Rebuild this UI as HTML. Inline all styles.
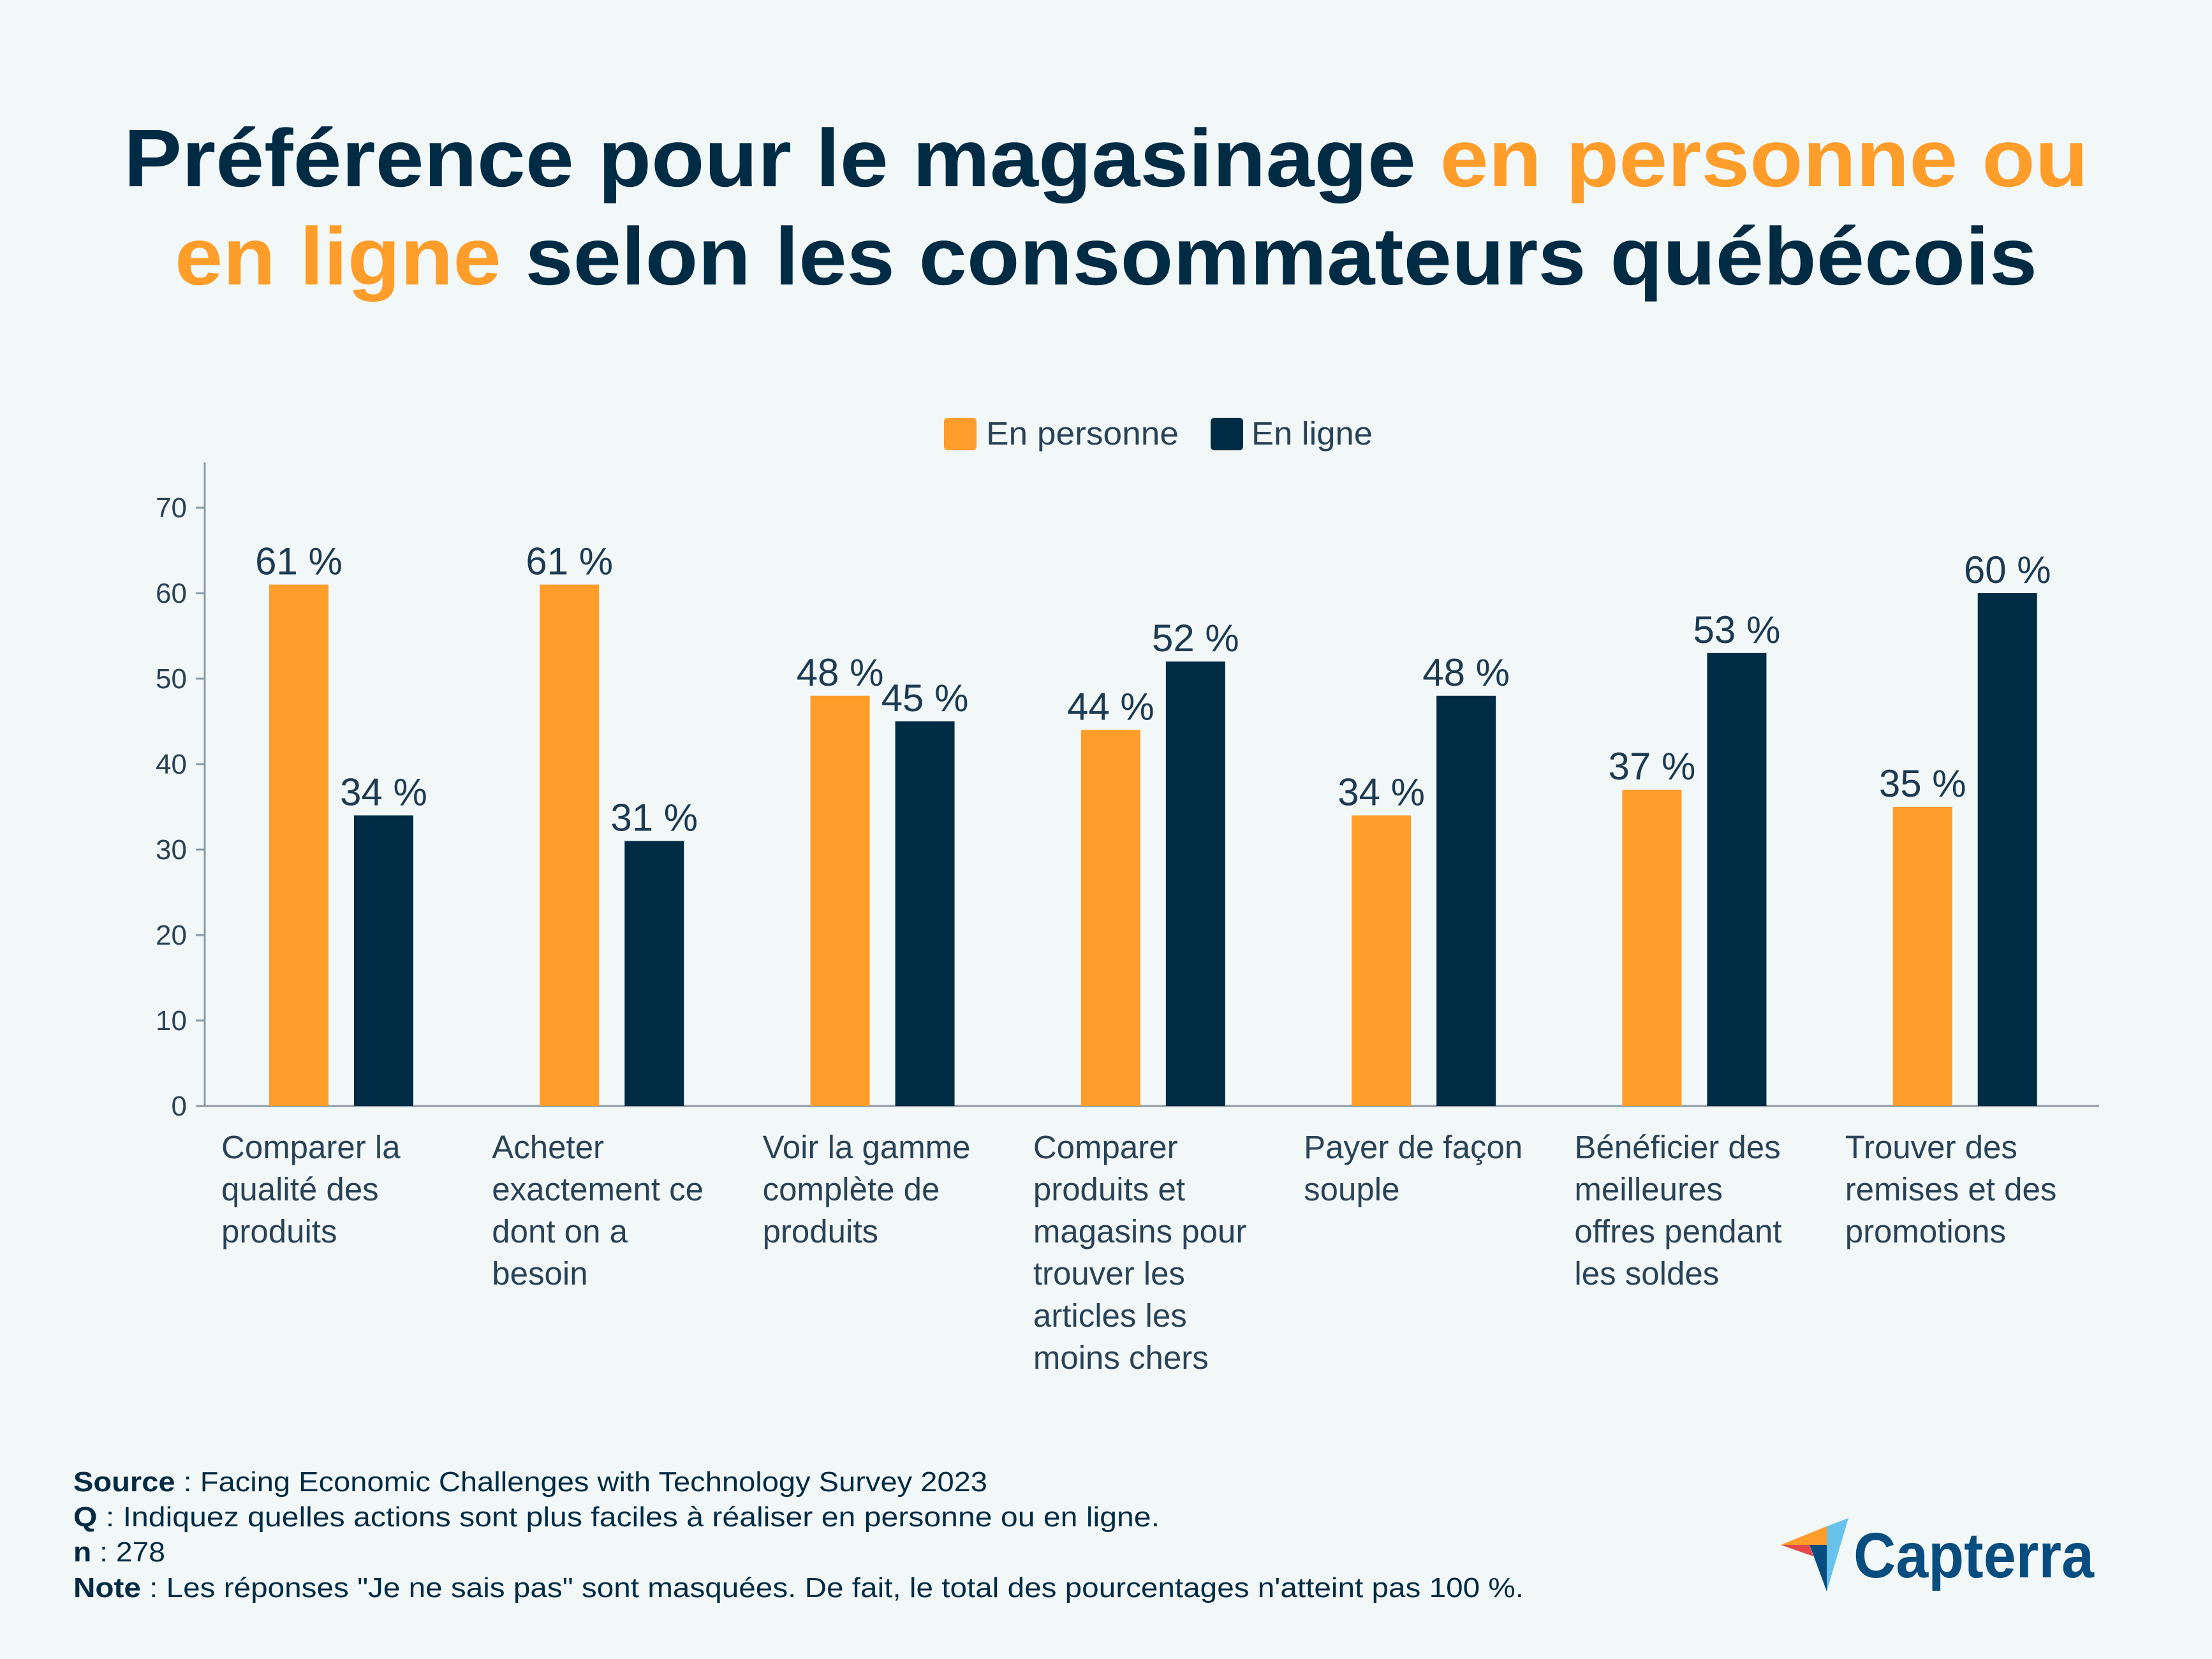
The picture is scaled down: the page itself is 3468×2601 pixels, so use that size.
<!DOCTYPE html>
<html><head><meta charset="utf-8"><style>
html,body{margin:0;padding:0;background:#f2f7f7;}
svg{display:block;font-family:"Liberation Sans",sans-serif;}
</style></head><body>
<svg id="chart" width="3468" height="2601" viewBox="0 0 3468 2601" xmlns="http://www.w3.org/2000/svg">
<rect width="3468" height="2601" fill="#f2f7f7"/>
<text x="1734" y="292" text-anchor="middle" font-size="128" font-weight="bold" fill="#002b44" textLength="3080" lengthAdjust="spacingAndGlyphs">Préférence pour le magasinage <tspan fill="#ff9d2a">en personne ou</tspan></text>
<text x="1734" y="446" text-anchor="middle" font-size="128" font-weight="bold" fill="#002b44" textLength="2920" lengthAdjust="spacingAndGlyphs"><tspan fill="#ff9d2a">en ligne</tspan> selon les consommateurs québécois</text>
<g>
<rect x="1480" y="655" width="51" height="51" rx="6" fill="#ff9d2a"/>
<text x="1546" y="697" font-size="51" fill="#2a4256" textLength="302" lengthAdjust="spacingAndGlyphs">En personne</text>
<rect x="1898" y="655" width="51" height="51" rx="6" fill="#002b44"/>
<text x="1962" y="697" font-size="51" fill="#2a4256" textLength="190" lengthAdjust="spacingAndGlyphs">En ligne</text>
</g>
<g id="plot"></g>
<g font-size="44" fill="#002b44">
<text x="115" y="2338" textLength="1433" lengthAdjust="spacingAndGlyphs"><tspan font-weight="bold">Source</tspan> : Facing Economic Challenges with Technology Survey 2023</text>
<text x="115" y="2393" textLength="1703" lengthAdjust="spacingAndGlyphs"><tspan font-weight="bold">Q</tspan> : Indiquez quelles actions sont plus faciles à réaliser en personne ou en ligne.</text>
<text x="115" y="2448" textLength="144" lengthAdjust="spacingAndGlyphs"><tspan font-weight="bold">n</tspan> : 278</text>
<text x="115" y="2504" textLength="2274" lengthAdjust="spacingAndGlyphs"><tspan font-weight="bold">Note</tspan> : Les réponses "Je ne sais pas" sont masquées. De fait, le total des pourcentages n'atteint pas 100 %.</text>
</g>
<g>
<polygon points="2792,2422 2864,2393 2864,2422" fill="#ff9d2a"/>
<polygon points="2864,2393 2898,2380 2864,2495" fill="#68c3ec"/>
<polygon points="2792,2422 2837,2422 2843,2440" fill="#e44849"/>
<polygon points="2837,2422 2864,2422 2864,2495" fill="#074d80"/>
<text x="2906" y="2473" font-size="100" font-weight="bold" fill="#074d80" textLength="377" lengthAdjust="spacingAndGlyphs">Capterra</text>
</g>
</svg>
<script>
const categories=[["Comparer la","qualité des","produits"],["Acheter","exactement ce","dont on a","besoin"],["Voir la gamme","complète de","produits"],["Comparer","produits et","magasins pour","trouver les","articles les","moins chers"],["Payer de façon","souple"],["Bénéficier des","meilleures","offres pendant","les soldes"],["Trouver des","remises et des","promotions"]];
const enPersonne=[61,61,48,44,34,37,35];
const enLigne=[34,31,45,52,48,53,60];
const yTicks=[0,10,20,30,40,50,60,70];
const NS="http://www.w3.org/2000/svg";
const plot=document.getElementById('plot');
const X0=321,X1=3291,Y0=1734,Y70=796,TOP=725;
const gw=(X1-X0)/categories.length;
function y(v){return Y0-(Y0-Y70)*v/70;}
function gx(i){return X0+i*gw;}
function mk(tag,attrs,txt){const e=document.createElementNS(NS,tag);for(const k in attrs)e.setAttribute(k,attrs[k]);if(txt!==undefined)e.textContent=txt;plot.appendChild(e);return e;}
let e=mk('line',{x1:X0,y1:TOP,x2:X0,y2:Y0,stroke:'#8a9aa6','stroke-width':3});


e=mk('line',{x1:X0,y1:Y0,x2:X1,y2:Y0,stroke:'#8a9aa6','stroke-width':3});


yTicks.forEach(t=>{
 let l=mk('line',{x1:X0-14,y1:y(t),x2:X0,y2:y(t),stroke:'#8a9aa6','stroke-width':3});
 
 
 let tx=mk('text',{x:X0-28,y:y(t)+15,'text-anchor':'end','font-size':44,fill:'#2a4256'},String(t));
 
 
});
const bw=93;
categories.forEach((c,i)=>{
 const xo=gx(i)+101, xn=gx(i)+234;
 let b=mk('rect',{x:xo,y:y(enPersonne[i]),width:bw,height:Y0-y(enPersonne[i]),fill:'#ff9d2a'});
 
 
 b=mk('rect',{x:xn,y:y(enLigne[i]),width:bw,height:Y0-y(enLigne[i]),fill:'#002b44'});
 
 
 let v=mk('text',{x:xo+bw/2,y:y(enPersonne[i])-16,'text-anchor':'middle','font-size':60,fill:'#1c3a52'},enPersonne[i]+' %');
 
 
 v=mk('text',{x:xn+bw/2,y:y(enLigne[i])-16,'text-anchor':'middle','font-size':60,fill:'#1c3a52'},enLigne[i]+' %');
 
 
 c.forEach((line,j)=>{
  let t=mk('text',{x:gx(i)+26,y:1816+j*66,'font-size':51,fill:'#2a4256'},line);
  
  
 });
});
</script>
</body></html>
